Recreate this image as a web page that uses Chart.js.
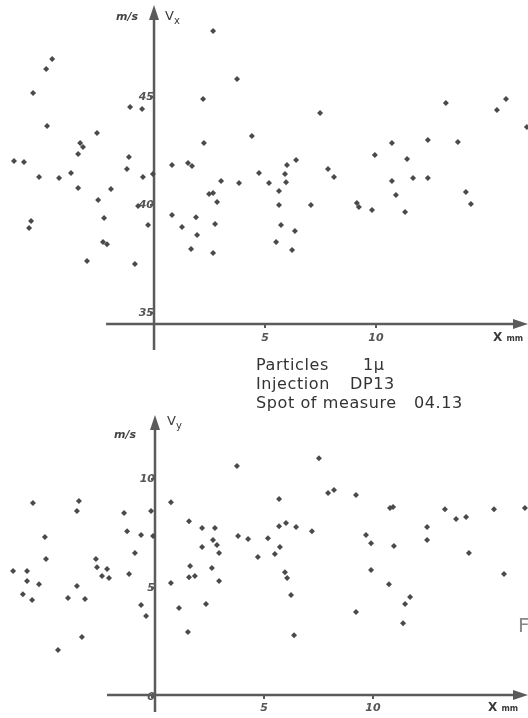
<!DOCTYPE html>
<html>
<head>
<meta charset="utf-8">
<script src="https://cdn.jsdelivr.net/npm/chart.js@4"></script>
<style>
  html, body { margin: 0; padding: 0; background: #fff; overflow: hidden; }
  body { width: 528px; height: 718px; position: relative; font-family: 'DejaVu Sans', sans-serif; }
  .box { position: absolute; left: 0; width: 528px; }
  #topBox { top: 0; height: 350px; }
  #bottomBox { top: 350px; height: 368px; }
  .lbl { position: absolute; color: #3a3a3a; white-space: nowrap; line-height: 1; }
  .unit { font-weight: bold; font-style: italic; font-size: 11px; color: #444; }
  .note { font-size: 16px; letter-spacing: 0.6px; color: #333; }
  sub { font-size: 10px; }
</style>
</head>
<body>
<div class="box" id="topBox"><canvas id="vxChart" width="528" height="350"></canvas></div>
<div class="box" id="bottomBox"><canvas id="vyChart" width="528" height="368"></canvas></div>

<!-- axis titles -->
<span class="lbl unit" style="left:116px; top:11px;">m/s</span>
<span class="lbl" style="left:165px; top:9px; font-size:13px;">V<sub>x</sub></span>
<span class="lbl" style="left:493px; top:331px; font-size:12px; font-weight:bold;">X <span style="font-size:8px;">mm</span></span>

<span class="lbl unit" style="left:114px; top:429px;">m/s</span>
<span class="lbl" style="left:167px; top:414px; font-size:13px;">V<sub>y</sub></span>
<span class="lbl" style="left:488px; top:701px; font-size:12px; font-weight:bold;">X <span style="font-size:8px;">mm</span></span>

<!-- annotation -->
<span class="lbl note" style="left:256px; top:357px;">Particles</span>
<span class="lbl note" style="left:363px; top:357px;">1µ</span>
<span class="lbl note" style="left:256px; top:376px;">Injection</span>
<span class="lbl note" style="left:350px; top:376px;">DP13</span>
<span class="lbl note" style="left:256px; top:395px;">Spot of measure</span>
<span class="lbl note" style="left:414px; top:395px;">04.13</span>
<span class="lbl" style="left:518px; top:615px; font-size:20px; color:#888;">F</span>

<script>
// Vx (m/s) against x (mm)
const vxPos = [2.66, -4.59, -4.86, 3.74, -5.45, 2.21, -1.08, -0.54, -4.82, 4.41, -2.57, 2.25, -3.33, -3.20, -3.42, -1.13,
  -6.31, -5.86, 0.81, 1.53, 1.71, -1.22, 4.73, -0.05, -5.18, -4.28, -3.74, -0.50, 3.02, 3.83, -3.42, -1.94,
  -2.52, 2.48, 2.66, 2.84, -0.72, 0.81, 1.89, -2.25, -5.54, -5.63, -0.27, 1.26, 2.75, 1.94, -2.30, -2.12,
  1.67, 2.66, -3.02, -0.86, 7.48, 13.15, 15.86, 15.45, 16.80, 10.72, 12.34, 13.69, 9.95, 11.40,
  5.99, 6.40, 5.90, 7.84, 8.11, 11.67, 12.34, 10.72, 5.18, 5.95, 5.63, 14.05, 10.90, 5.63,
  7.07, 9.14, 9.23, 9.82, 11.31, 14.28, 5.72, 6.35, 5.50, 6.22];
const vxVal = [48.06, 46.76, 46.30, 45.83, 45.19, 44.91, 44.54, 44.44, 43.66, 43.19, 43.33, 42.87, 42.87, 42.69, 42.36, 42.22,
  42.04, 41.99, 41.85, 41.94, 41.81, 41.67, 41.48, 41.44, 41.30, 41.25, 41.48, 41.30, 41.11, 41.02, 40.79, 40.74,
  40.23, 40.51, 40.56, 40.14, 39.95, 39.54, 39.44, 39.40, 39.26, 38.94, 39.07, 38.98, 39.12, 38.61, 38.29, 38.19,
  37.96, 37.78, 37.41, 37.27, 44.26, 44.72, 44.91, 44.40, 43.61, 42.87, 43.01, 42.92, 42.31, 42.13,
  41.85, 42.08, 41.44, 41.67, 41.30, 41.25, 41.25, 41.11, 41.02, 41.06, 40.65, 40.60, 40.46, 40.00,
  40.00, 40.09, 39.91, 39.77, 39.68, 40.05, 39.07, 38.80, 38.29, 37.92];

// Vy (m/s) against x (mm)
const vyPos = [3.76, -5.60, -3.49, -3.58, 0.73, -1.42, -0.18, 1.56, 2.16, 2.75, -1.28, -0.64, -5.05, -0.09, 2.66, 3.81,
  4.27, 7.52, 5.69, 7.94, 8.21, 9.22, 10.78, 10.92, 13.30, 15.55, 16.97, 5.69, 6.01, 6.47, 7.20, 12.48,
  13.81, 14.27, 9.68, 12.48, 5.18, 2.84, 2.94, 2.16, 4.72, -0.92, -2.71, -5.00, -6.51, -5.87, -2.66, -2.20,
  -1.19, -2.43, -2.11, 1.61, 1.56, 1.83, 2.61, -5.87, -5.32, -3.58, 0.73, 2.94, -6.06, -5.64, -3.99, -3.21,
  -0.64, 1.10, 2.34, -0.41, 1.51, -3.35, -4.45, 5.73, 5.50, 9.91, 10.96, 14.40, 5.96, 6.06, 9.91, 10.73,
  16.01, 6.24, 11.70, 11.47, 9.22, 11.38, 6.38];
const vyVal = [10.60, 8.90, 8.99, 8.53, 8.94, 8.44, 8.53, 8.07, 7.75, 7.75, 7.61, 7.43, 7.34, 7.39, 7.20, 7.39,
  7.25, 10.96, 9.08, 9.36, 9.50, 9.27, 8.67, 8.72, 8.62, 8.62, 8.67, 7.84, 7.98, 7.80, 7.61, 7.80,
  8.17, 8.26, 7.43, 7.20, 7.29, 6.97, 6.61, 6.88, 6.42, 6.61, 6.33, 6.33, 5.78, 5.78, 5.96, 5.87,
  5.64, 5.55, 5.46, 6.01, 5.50, 5.55, 5.92, 5.32, 5.18, 5.09, 5.23, 5.32, 4.72, 4.45, 4.54, 4.50,
  4.22, 4.08, 4.27, 3.72, 2.98, 2.75, 2.16, 6.88, 6.56, 7.06, 6.93, 6.61, 5.73, 5.46, 5.83, 5.18,
  5.64, 4.68, 4.59, 4.27, 3.90, 3.39, 2.84];

// tick labels
const vxTicksY = [35, 40, 45];
const vxTicksX = [5, 10];
const vyTicksY = [0, 5, 10];
const vyTicksX = [5, 10];

const axisColor = '#5b5b5b';

// axis lines with arrows through the origin
const axisPlugin = {
  id: 'axisLines',
  beforeDatasetsDraw(chart, args, opts) {
    const { ctx, scales: { x, y } } = chart;
    const x0 = x.getPixelForValue(0);
    const yb = y.getPixelForValue(opts.base);
    const xs = x.getPixelForValue(opts.from);
    const xe = chart.width;
    const yt = y.getPixelForValue(opts.top);
    const ye = opts.bottom == null ? chart.height : y.getPixelForValue(opts.bottom);
    ctx.save();
    ctx.strokeStyle = axisColor;
    ctx.fillStyle = axisColor;
    ctx.lineWidth = 2.5;
    ctx.beginPath();
    ctx.moveTo(xs, yb);
    ctx.lineTo(xe - 6, yb);
    ctx.moveTo(x0, ye);
    ctx.lineTo(x0, yt + 8);
    ctx.stroke();
    // arrow up
    ctx.beginPath();
    ctx.moveTo(x0, yt);
    ctx.lineTo(x0 - 5, yt + 15);
    ctx.lineTo(x0 + 5, yt + 15);
    ctx.closePath();
    ctx.fill();
    // arrow right
    ctx.beginPath();
    ctx.moveTo(xe, yb);
    ctx.lineTo(xe - 15, yb - 5);
    ctx.lineTo(xe - 15, yb + 5);
    ctx.closePath();
    ctx.fill();
    ctx.restore();
  }
};

// axes sit inside the plot, so they should not push the chart area in
const noPad = (s) => {
  s.paddingTop = 0;
  s.paddingBottom = 0;
  s.paddingLeft = 0;
  s.paddingRight = 0;
};

function makeChart(id, xs, ys, opt) {
  const points = xs.map((v, i) => ({ x: v, y: ys[i] }));
  const tickFont = { family: 'DejaVu Sans', size: 11, weight: 'bold', style: 'italic' };
  return new Chart(document.getElementById(id), {
    type: 'scatter',
    data: {
      datasets: [{
        data: points,
        pointStyle: 'rectRot',
        pointRadius: 3,
        backgroundColor: '#4a4a4a',
        borderWidth: 0,
        clip: false
      }]
    },
    options: {
      responsive: false,
      animation: false,
      layout: { padding: 0, autoPadding: false },
      plugins: {
        legend: { display: false },
        tooltip: { enabled: false },
        axisLines: opt.axis
      },
      scales: {
        x: {
          type: 'linear',
          min: opt.xMin, max: opt.xMax,
          position: { y: opt.axis.base },
          border: { display: false },
          grid: { drawOnChartArea: false, drawTicks: true, tickLength: 4, color: axisColor, lineWidth: 2 },
          afterBuildTicks: (s) => { s.ticks = opt.xTicks.map(v => ({ value: v })); },
          afterFit: noPad,
          ticks: { color: '#555', font: tickFont, padding: 3, maxRotation: 0 }
        },
        y: {
          type: 'linear',
          min: opt.yMin, max: opt.yMax,
          position: { x: 0 },
          border: { display: false },
          grid: { drawOnChartArea: false, drawTicks: true, tickLength: 4, color: axisColor, lineWidth: 2 },
          afterBuildTicks: (s) => { s.ticks = opt.yTicks.map(v => ({ value: v })); },
          afterFit: noPad,
          ticks: { color: '#555', font: tickFont, padding: 1 }
        }
      }
    },
    plugins: [axisPlugin]
  });
}

makeChart('vxChart', vxPos, vxVal, {
  xMin: -6.94, xMax: 16.85, yMin: 33.29, yMax: 49.49,
  xTicks: vxTicksX, yTicks: vxTicksY,
  axis: { base: 34.49, from: -2.16, top: 49.26 }
});

makeChart('vyChart', vyPos, vyVal, {
  xMin: -7.11, xMax: 17.11, yMin: -0.96, yMax: 15.92,
  xTicks: vyTicksX, yTicks: vyTicksY,
  axis: { base: 0.1, from: -2.2, top: 12.94, bottom: -0.69 }
});
</script>
</body>
</html>
